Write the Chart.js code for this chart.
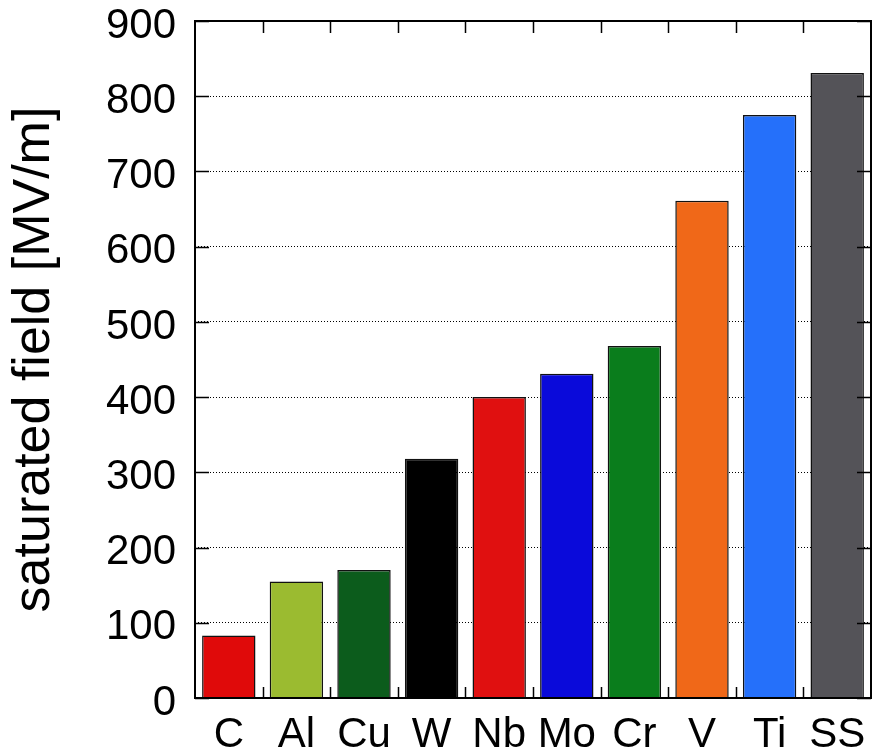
<!DOCTYPE html>
<html>
<head>
<meta charset="utf-8">
<script src="https://cdn.jsdelivr.net/npm/chart.js@4"></script>
<style>
  html, body { margin: 0; padding: 0; background: #fff; }
  #wrap { width: 873px; height: 753px; }
</style>
</head>
<body>
<div id="wrap"><canvas id="fieldChart" width="873" height="753"></canvas></div>
<script>
// values
const materials = ['C', 'Al', 'Cu', 'W', 'Nb', 'Mo', 'Cr', 'V', 'Ti', 'SS'];
const saturatedField = [83, 155, 170, 318, 400, 431, 468, 661, 775, 831];
const barColors = ['#e00a0a', '#9bbb30', '#0c5c1c', '#000000', '#e01010',
                   '#0a0ada', '#0a7d1c', '#f06818', '#2570fa', '#545358'];
const yMin = 0;
const yMax = 900;
const yStep = 100;

// inward tick marks + frame, drawn over the bars like gnuplot does
const frameTicks = {
    id: 'frameTicks',
    afterDatasetsDraw(chart) {
        const ctx = chart.ctx;
        const a = chart.chartArea;
        const x = chart.scales.x;
        const y = chart.scales.y;
        ctx.save();
        ctx.strokeStyle = '#000';
        ctx.lineWidth = 1.5;
        ctx.beginPath();
        y.ticks.forEach(t => {
            const py = Math.round(y.getPixelForValue(t.value)) + 0.5;
            ctx.moveTo(a.left, py); ctx.lineTo(a.left + 14, py);
            ctx.moveTo(a.right, py); ctx.lineTo(a.right - 14, py);
        });
        for (let i = 0; i < materials.length - 1; i++) {
            const px = Math.round((x.getPixelForValue(i) + x.getPixelForValue(i + 1)) / 2) + 0.5;
            ctx.moveTo(px, a.bottom); ctx.lineTo(px, a.bottom - 11);
            ctx.moveTo(px, a.top); ctx.lineTo(px, a.top + 12);
        }
        ctx.stroke();
        ctx.lineWidth = 2;
        ctx.strokeRect(a.left, a.top, a.right - a.left, a.bottom - a.top);
        ctx.restore();
    }
};

const ctx = document.getElementById('fieldChart').getContext('2d');
new Chart(ctx, {
    type: 'bar',
    data: {
        labels: materials,
        datasets: [{
            data: saturatedField,
            backgroundColor: barColors,
            borderColor: '#111',
            borderWidth: 1.5,
            barPercentage: 0.79,
            categoryPercentage: 1.0
        }]
    },
    options: {
        responsive: false,
        animation: false,
        layout: { padding: { left: 0, top: 21, right: 2, bottom: 0 } },
        plugins: {
            legend: { display: false },
            tooltip: { enabled: false }
        },
        scales: {
            x: {
                grid: { display: false, drawTicks: false },
                border: { display: false },
                ticks: {
                    color: '#000',
                    font: { family: 'Liberation Sans', size: 42 },
                    padding: 12,
                    autoSkip: false,
                    maxRotation: 0
                },
                afterFit(scale) {
                    scale.height = 55;
                    scale.paddingLeft = 0;
                    scale.paddingRight = 0;
                }
            },
            y: {
                min: yMin,
                max: yMax,
                grid: {
                    color: '#000',
                    lineWidth: 1,
                    drawTicks: false
                },
                border: { display: false, dash: [1, 2] },
                ticks: {
                    stepSize: yStep,
                    color: '#000',
                    // empty first line nudges the number a few px below its tick, as in the source
                    font: { family: 'Liberation Sans', size: 42, lineHeight: 0.24 },
                    padding: 19,
                    callback: v => ['', String(v)]
                },
                title: {
                    display: true,
                    text: 'saturated field [MV/m]',
                    color: '#000',
                    font: { family: 'Liberation Sans', size: 52 },
                    padding: { top: 3, bottom: 0 }
                },
                afterFit(scale) {
                    scale.width = 195;
                    scale.paddingTop = 0;
                    scale.paddingBottom = 0;
                }
            }
        }
    },
    plugins: [frameTicks]
});
</script>
</body>
</html>
